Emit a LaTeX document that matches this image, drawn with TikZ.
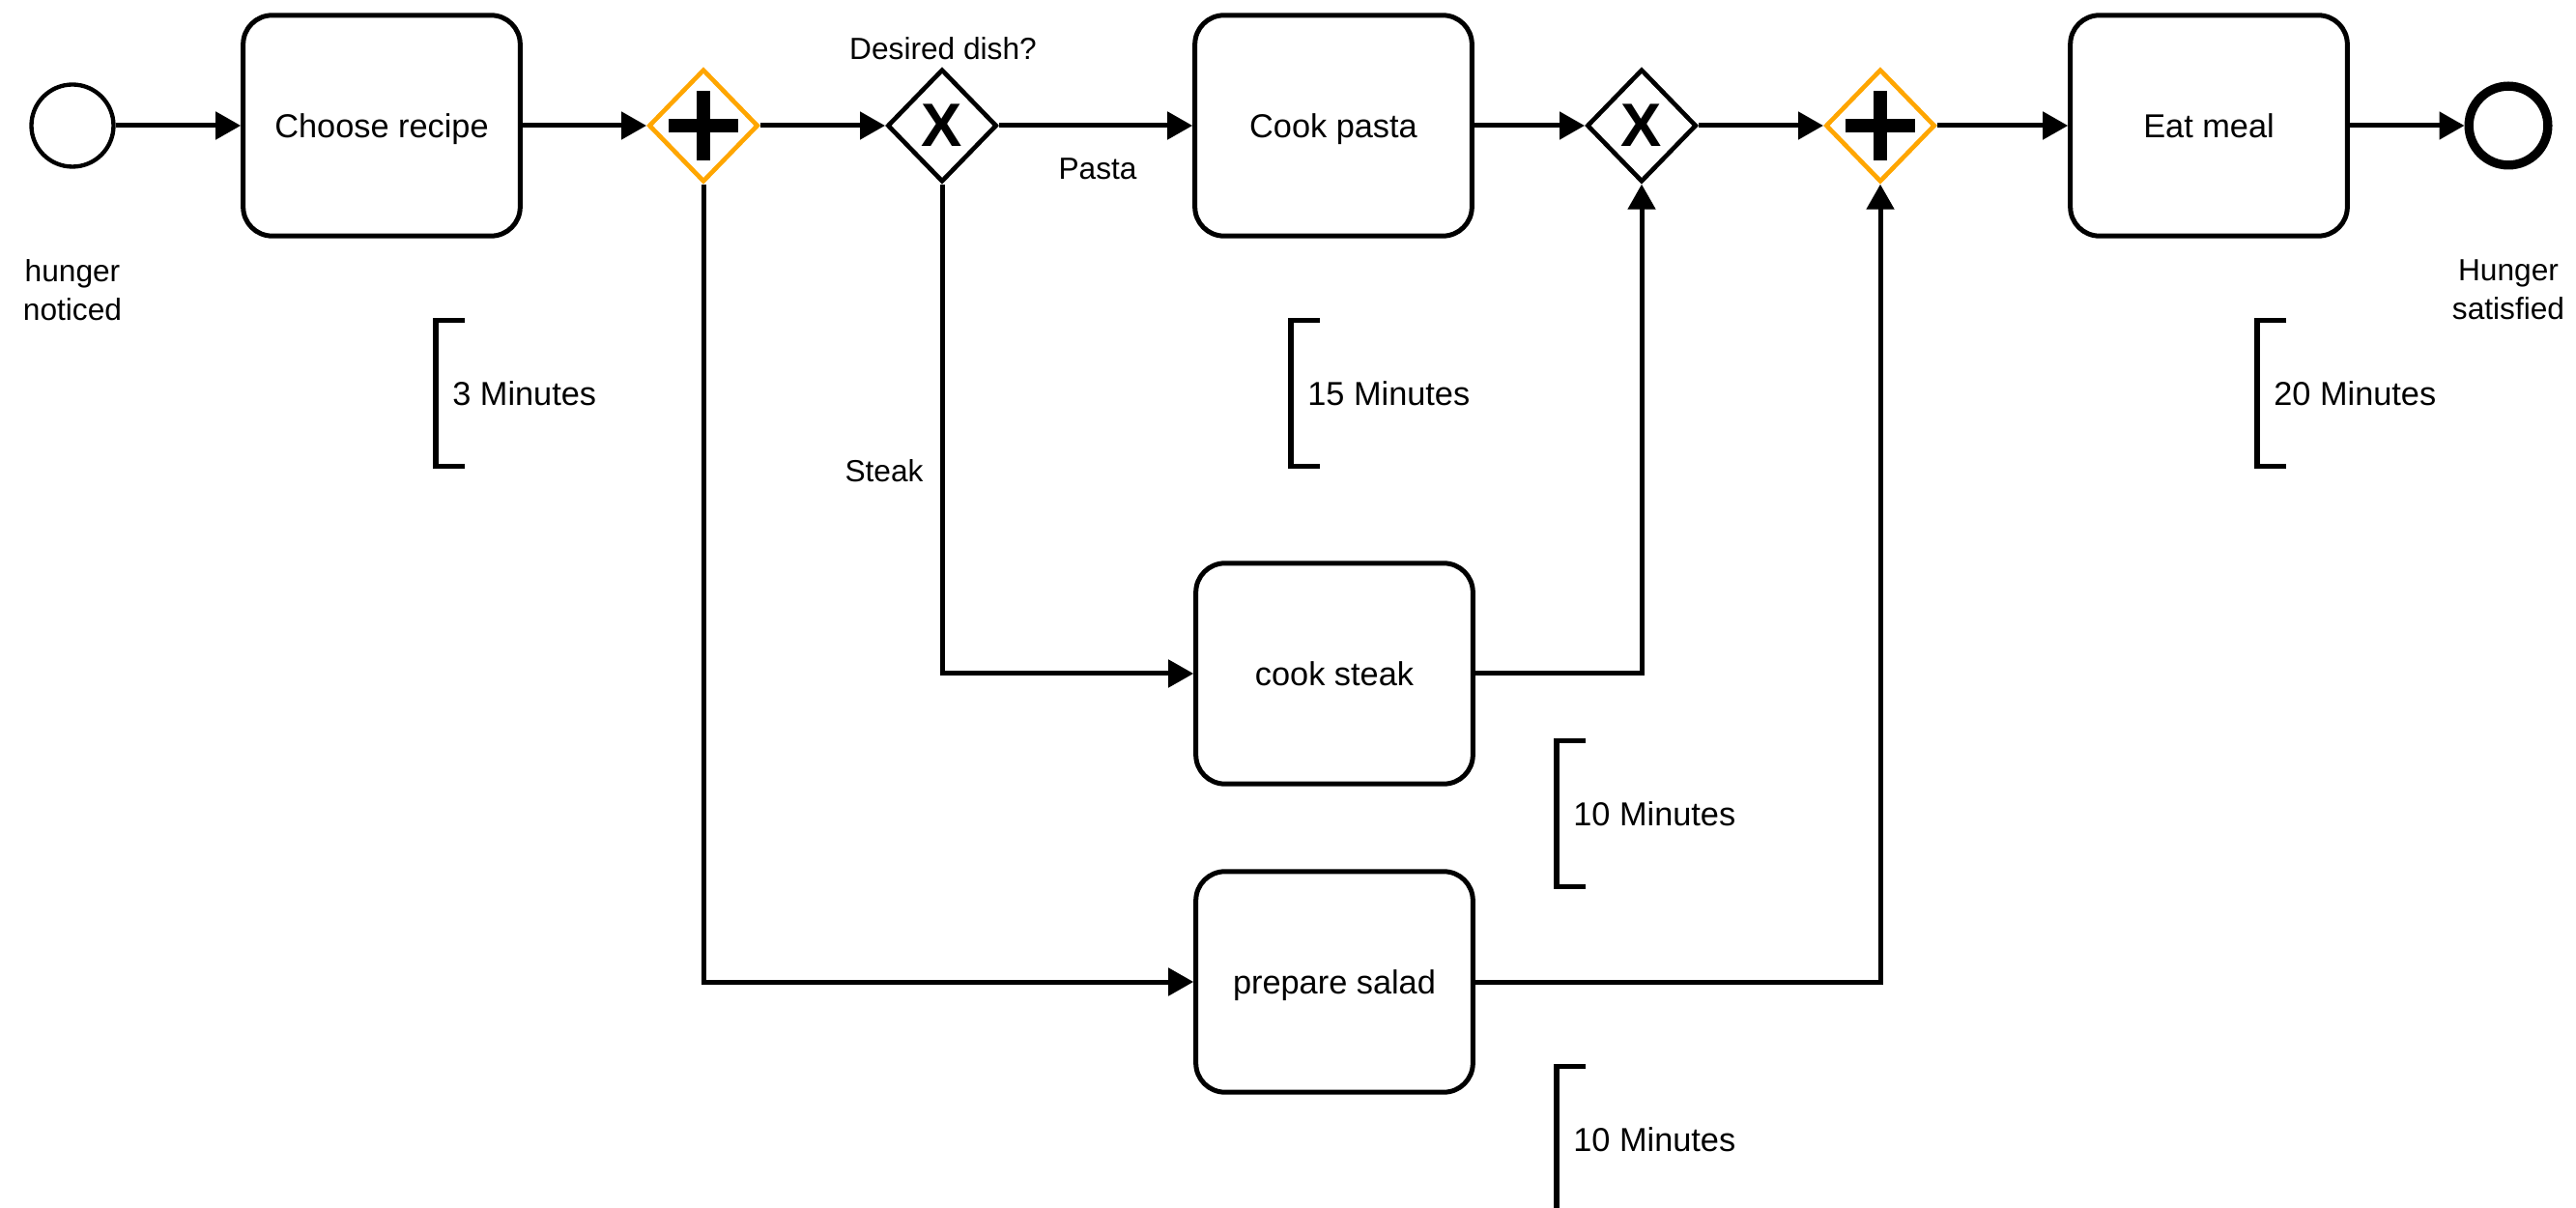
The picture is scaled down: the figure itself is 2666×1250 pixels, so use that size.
\documentclass[tikz,border=0pt]{standalone}
\usepackage{fontspec}
\setmainfont{Liberation Sans}
\usetikzlibrary{arrows.meta,shapes.geometric}
\definecolor{gworange}{RGB}{255,166,0}

\begin{document}
\begin{tikzpicture}[x=0.3pt,y=-0.3pt,
	task/.style={draw,line width=1.5pt,rounded corners=9pt,minimum width=86pt,minimum height=68.5pt,text depth=0pt,font=\fontsize{10.3}{12}\selectfont},
	event/.style={draw,circle,line width=1.3pt,minimum size=25.5pt,inner sep=0pt},
	endevent/.style={event,line width=2.8pt,minimum size=24.5pt},
	gate/.style={draw,diamond,line width=1.4pt,minimum width=34pt,minimum height=35pt,inner sep=0pt},
	xorgate/.style={gate,label={center:\fontsize{19}{19}\selectfont\bfseries X}},
	andgate/.style={gate,draw=gworange,path picture={
			\draw[black,line width=4pt] ([xshift=-10.8pt]path picture bounding box.center) -- ([xshift=10.8pt]path picture bounding box.center)
			([yshift=-10.8pt]path picture bounding box.center) -- ([yshift=10.8pt]path picture bounding box.center);}},
	flow/.style={line width=1.5pt,-{Triangle[length=7.8pt,width=8.4pt]}},
	lbl/.style={font=\fontsize{9.5}{12}\selectfont,align=center},
	durnote/.style={anchor=west,minimum height=45pt,inner xsep=5pt,inner ysep=0pt,font=\fontsize{10.3}{12}\selectfont},
	bracket/.style={line width=1.6pt}]
	\useasboundingbox (0,0) rectangle (2666,1250);
	
	% events
	\node[event] (start) at (75,130) {};
	\node[lbl] (startlbl) at (75,300) {hunger\\noticed};
	\node[endevent] (stop) at (2596,130) {};
	\node[lbl] (stoplbl) at (2596,300) {Hunger\\satisfied};
	
	% tasks
	\node[task] (recipe) at (395,130) {Choose recipe};
	\node[task] (pasta) at (1380,130) {Cook pasta};
	\node[task] (eat) at (2286,130) {Eat meal};
	\node[task] (steak) at (1381,697) {cook steak};
	\node[task] (salad) at (1381,1016) {prepare salad};
	
	% gateways
	\node[andgate] (split) at (728,130) {};
	\node[xorgate] (dish) at (975,130) {};
	\node[lbl] (dishlbl) at (976,50) {Desired dish?};
	\node[xorgate] (merge) at (1699,130) {};
	\node[andgate] (join) at (1946,130) {};
	
	% sequence flows
	\draw[flow] (start) -- (recipe);
	\draw[flow] (recipe) -- (split);
	\draw[flow] (split) -- (dish);
	\draw[flow] (dish) -- (pasta);
	\node[lbl] (pastalbl) at (1136,175) {Pasta};
	\draw[flow] (pasta) -- (merge);
	\draw[flow] (merge) -- (join);
	\draw[flow] (join) -- (eat);
	\draw[flow] (eat) -- (stop);
	\draw[flow] (dish.south) |- (steak.west);
	\node[lbl] (steaklbl) at (915,487) {Steak};
	\draw[flow] (split.south) |- (salad.west);
	\draw[flow] (steak.east) -| (merge.south);
	\draw[flow] (salad.east) -| (join.south);
	
	% durations
	\node[durnote] (trecipe) at (451,407) {3 Minutes};
	\draw[bracket] ([xshift=9pt]trecipe.north west) -- (trecipe.north west) -- (trecipe.south west) -- ([xshift=9pt]trecipe.south west);
	\node[durnote] (tpasta) at (1336,407) {15 Minutes};
	\draw[bracket] ([xshift=9pt]tpasta.north west) -- (tpasta.north west) -- (tpasta.south west) -- ([xshift=9pt]tpasta.south west);
	\node[durnote] (teat) at (2336,407) {20 Minutes};
	\draw[bracket] ([xshift=9pt]teat.north west) -- (teat.north west) -- (teat.south west) -- ([xshift=9pt]teat.south west);
	\node[durnote] (tsteak) at (1611,842) {10 Minutes};
	\draw[bracket] ([xshift=9pt]tsteak.north west) -- (tsteak.north west) -- (tsteak.south west) -- ([xshift=9pt]tsteak.south west);
	\node[durnote] (tsalad) at (1611,1179) {10 Minutes};
	\draw[bracket] ([xshift=9pt]tsalad.north west) -- (tsalad.north west) -- (tsalad.south west) -- ([xshift=9pt]tsalad.south west);
	
\end{tikzpicture}
\end{document}
